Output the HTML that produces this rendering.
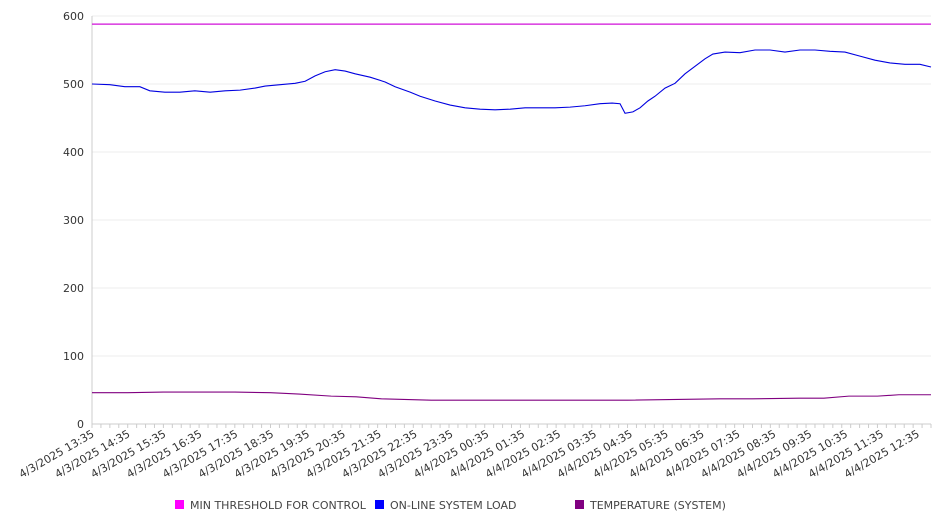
<!DOCTYPE html>
<html><head><meta charset="utf-8"><style>
body{margin:0;background:#fff;width:946px;height:526px;overflow:hidden;font-family:"DejaVu Sans","Liberation Sans",sans-serif}
</style></head><body>
<svg id="chart" width="946" height="526" xmlns="http://www.w3.org/2000/svg"></svg>
<script>
const yTicks=[0,100,200,300,400,500,600];
const xLabels=["4/3/2025 13:35","4/3/2025 14:35","4/3/2025 15:35","4/3/2025 16:35","4/3/2025 17:35","4/3/2025 18:35","4/3/2025 19:35","4/3/2025 20:35","4/3/2025 21:35","4/3/2025 22:35","4/3/2025 23:35","4/4/2025 00:35","4/4/2025 01:35","4/4/2025 02:35","4/4/2025 03:35","4/4/2025 04:35","4/4/2025 05:35","4/4/2025 06:35","4/4/2025 07:35","4/4/2025 08:35","4/4/2025 09:35","4/4/2025 10:35","4/4/2025 11:35","4/4/2025 12:35"];
const loadHours=[0,0.5,0.92,1.34,1.62,2.04,2.46,2.88,3.31,3.73,4.15,4.57,4.85,5.27,5.69,5.97,6.25,6.53,6.81,7.09,7.37,7.79,8.21,8.49,8.91,9.19,9.61,10.03,10.45,10.87,11.29,11.71,12.13,12.55,12.97,13.39,13.81,14.23,14.57,14.79,14.93,15.15,15.35,15.57,15.77,16.05,16.33,16.61,16.89,17.17,17.39,17.73,18.15,18.57,18.99,19.41,19.83,20.25,20.67,21.09,21.51,21.93,22.35,22.77,23.19,23.5];
const loadValues=[500,499,496,496,490,488,488,490,488,490,491,494,497,499,501,504,512,518,521,519,515,510,503,496,488,482,475,469,465,463,462,463,465,465,465,466,468,471,472,471,457,459,465,475,482,494,501,515,526,537,544,547,546,550,550,547,550,550,548,547,541,535,531,529,529,525];
const tempHours=[0,1,2,3,4,5,5.8,6.7,7.4,8.1,9.5,12,15,17.6,18.5,19.8,20.5,21.2,22,22.6,23.5];
const tempValues=[46,46,47,47,47,46,44,41,40,37,35,35,35,37,37,38,38,41,41,43,43];
const thresholdValue=588;
const X0=92,X1=931,Y0=424,Y1=16,HMAX=23.5;
const sx=h=>X0+h/HMAX*(X1-X0);
const sy=v=>Y0-v/600*(Y0-Y1);
const svg=document.getElementById('chart');const NS='http://www.w3.org/2000/svg';
function mk(t,a,p){const e=document.createElementNS(NS,t);for(const k in a)e.setAttribute(k,a[k]);(p||svg).appendChild(e);return e;}
yTicks.forEach(v=>{
 const g=mk('line',{x1:X0,x2:X1,y1:sy(v),y2:sy(v),stroke:v===0?'#ccc':'#ececec','stroke-width':1});
 
 
 const t=mk('text',{x:84,y:sy(v)+4,'text-anchor':'end','font-size':11,fill:'#333'});t.textContent=v;
 
 
});
const ax=mk('line',{x1:X0,x2:X0,y1:Y1,y2:Y0,stroke:'#ccc'});


for(let h=0;h<=HMAX;h+=0.25){const tk=mk('line',{x1:sx(h),x2:sx(h),y1:Y0,y2:Y0+4,stroke:'#ccc'});
 
 }
xLabels.forEach((l,i)=>{const x=sx(i*1.005)+3;
 const t=mk('text',{x:x,y:Y0+12,'text-anchor':'end','font-size':11,fill:'#333',transform:`rotate(-30 ${x} ${Y0+12})`});t.textContent=l;
 
 });
const th=mk('line',{x1:X0,x2:X1,y1:sy(thresholdValue),y2:sy(thresholdValue),stroke:'#d010d8','stroke-width':1.2});


const lp=mk('polyline',{points:loadHours.map((h,i)=>sx(h)+','+sy(loadValues[i])).join(' '),fill:'none',stroke:'#0000e0','stroke-width':1.1});


const tp=mk('polyline',{points:tempHours.map((h,i)=>sx(h)+','+sy(tempValues[i])).join(' '),fill:'none',stroke:'#800080','stroke-width':1.1});


[[175,'#ff00ff','MIN THRESHOLD FOR CONTROL'],[375,'#0000ff','ON-LINE SYSTEM LOAD'],[575,'#800080','TEMPERATURE (SYSTEM)']].forEach(([x,c,l])=>{
 const r=mk('rect',{x:x,y:500,width:9,height:9,fill:c});
 
 
 const t=mk('text',{x:x+15,y:509,'font-size':11,fill:'#444'});t.textContent=l;
 
 
});
</script>
</body></html>
